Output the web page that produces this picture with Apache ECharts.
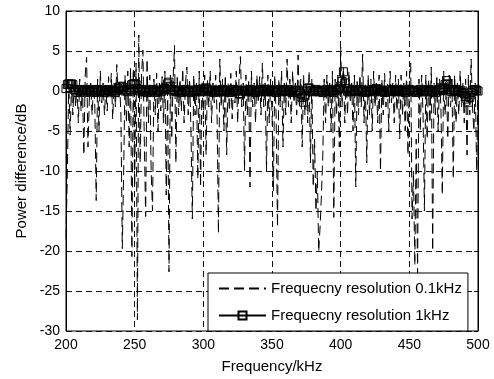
<!DOCTYPE html>
<html>
<head>
<meta charset="utf-8">
<script src="https://cdn.jsdelivr.net/npm/echarts@6/dist/echarts.min.js"></script>
<style>
  html, body { margin: 0; padding: 0; background: #fff; }
  #chart { width: 494px; height: 379px; }
</style>
</head>
<body>
<div id="chart"></div>
<script>
// frequency axis: one value per kHz, starting at 200 kHz
const freqStart = 200
const freqStep = 1

// power difference (dB), 0.1 kHz resolution (one sample per kHz)
const fineRes = [
  -18.5, -10, 1.2, -5.5, 0.8, -3, 1.5, -2, 0.6, -4,
  1.5, -2.5, 0.5, -8, 2, 4.2, -7, -1, 1, -3,
  0.8, -2, -13.7, 1.5, -5, 2.5, -1.5, 1, -3, 0.5,
  -2.5, 1.8, -1, 2.2, -3.5, 1, -2, 3.3, -1, 1.2,
  -3, -19.7, -10, 2, -4, 2.5, -7, 3, -20.7, 2.8,
  -12, 3.5, -28.6, 7, -9, 2, 5.1, -6, -15.7, 4,
  -4, 2, -10, -15, 1.5, -3, 2.2, -5, 1, -2.5,
  1.8, -4, 2.5, -13, 1, -22.6, 2, -6, 1.5, 5.7,
  -9, 2, -3, 1.5, -2.5, 2.8, -4, 1, 3, -3,
  1.5, -5, -16, 2, -3, 1, -11, 2.5, -12, 1.2,
  -3.5, 2, -8, 1.5, -2, 2.5, -4, 1, -1.5, 2,
  -3, -17.8, 4, -2, 1.5, -5, 2, -8, 1, -2.5,
  2.2, -3.5, 1, -1.5, 2.5, -4, 1.5, 4.3, -2, 1,
  -10, 2, -3, 1.2, -12, 2.5, -2, 1, -4, 2,
  -1.5, 1.8, -3, 3.5, -2, 1, -10, 2, -4, 1.5,
  -2.5, -12.5, 2, -3, -17, 1.5, -2, 2.5, -7, 1,
  -3, 4, -2, 1.5, -4, 2.5, -1.5, 1, -3, 4.5,
  -2, 1.5, -7, 2, -3, 1, -4, 2.5, -9, 1.5,
  -12, -6, -15, -10, -20.1, -17, -13, -8, 1.5, -4,
  2, -2, 1, -5, 2.5, -15.8, 1.5, -3, 2, -7,
  5.5, -2, 3, -4, 1.5, -3, 2.5, -1.5, 1, -5,
  2, -12, 1.5, -3, 2, -2, 4.6, -4, 1, -9,
  2, -3, 1.5, -5, 2.5, -2, 1, -4, 2, -10,
  1.5, -3, 2.2, -2, 1, -5, 2.5, -1.5, 1, -4,
  2, -2.5, 1.5, -6, 2, -3, 1, -5, 2.5, -8,
  1.5, 3.5, -16, -10, -21.8, -6, -22.8, 1.5, -5, 2,
  -3, -15, 2, -6, 1.5, -4, 3, -20, 1, -3,
  2, -5, 1.5, -2, -13, 2.5, -3, 1, -6, 2,
  -2, 1.5, -11, 2, -4, 1, -3, 2.5, -2, 1,
  -4, 1.5, -8, 2, -3, 4, -2, -5, 1, -10,
  0.5
]

// power difference (dB), 1 kHz resolution
const coarseRes = [
  0.3, 0.8, 0.9, 0.8, 0.9, 0.8, 0.2, 0.0, -0.2, 0.1,
  0.1, -0.1, 0.2, 0.0, -0.2, 0.1, 0.0, 0.2, -0.1, 0.0,
  0.1, -0.2, 0.0, 0.2, 0.1, -0.1, 0.0, 0.1, -0.2, 0.0,
  0.1, 0.2, 0.0, -0.1, 0.1, 0.0, -0.2, 0.1, 0.3, 0.5,
  0.6, 0.5, 0.2, 0.0, 0.1, -0.1, 0.2, 0.0, 0.8, 0.9,
  0.9, 0.8, 0.3, 0.1, 0.0, 0.2, -0.1, 0.0, 0.1, -0.2,
  0.0, 0.1, -0.1, 0.2, 0.0, -0.2, 0.1, 0.0, 0.1, -0.1,
  0.0, 0.2, 0.3, 0.5, 0.9, 1.1, 0.6, 0.2, 0.0, 0.1,
  -0.1, 0.0, 0.1, 0.0, -0.2, 0.1, 0.0, 0.2, -0.1, 0.0,
  0.1, -0.2, 0.0, 0.1, 0.0, -0.1, 0.2, 0.0, 0.1, -0.1,
  0.0, 0.3, 0.4, 0.2, 0.0, -0.1, 0.1, 0.0, -0.2, 0.1,
  0.0, 0.1, -0.1, 0.0, 0.2, 0.0, -0.1, 0.1, 0.0, -0.2,
  0.1, 0.0, 0.2, -0.1, 0.0, 0.1, -0.3, -0.4, 0.0, 0.1,
  0.0, -0.1, 0.1, 0.0, 0.2, -0.1, 0.0, 0.1, -0.2, 0.0,
  0.1, 0.0, -0.1, 0.2, 0.0, 0.1, -0.1, 0.0, 0.2, 0.0,
  -0.1, 0.1, 0.0, -0.2, 0.1, 0.0, 0.2, -0.1, 0.0, 0.1,
  0.0, -0.1, 0.2, 0.0, 0.1, -0.2, 0.0, 0.1, -0.1, 0.0,
  0.1, -0.3, -0.8, -1.4, -0.6, 0.0, 0.3, 0.4, 0.1, 0.0,
  -0.1, 0.0, 0.2, 0.0, -0.1, 0.1, 0.0, -0.2, 0.1, 0.0,
  0.2, 0.0, -0.1, 0.1, 0.0, -0.2, 0.1, 0.0, 0.2, 0.3,
  0.6, 1.2, 2.4, 1.0, 0.3, 0.0, 0.1, -0.1, 0.0, 0.2,
  0.0, -0.1, 0.1, 0.0, 0.2, -0.1, 0.0, 0.1, -0.2, 0.0,
  0.1, 0.0, -0.1, 0.2, 0.0, 0.1, 0.3, 0.2, 0.0, -0.1,
  0.0, 0.1, -0.2, 0.0, 0.1, 0.0, -0.1, 0.2, 0.0, 0.1,
  -0.1, 0.0, 0.2, 0.0, -0.1, 0.1, 0.0, -0.2, 0.1, 0.0,
  0.2, 0.0, -0.1, 0.1, 0.0, -0.2, 0.1, 0.0, 0.2, -0.1,
  0.0, 0.1, -0.1, 0.0, 0.2, 0.0, -0.1, 0.1, 0.0, -0.2,
  0.1, 0.0, 0.2, 0.4, 0.3, 0.1, 0.8, 1.3, 0.9, 0.2,
  0.0, -0.1, 0.1, 0.0, 0.2, -0.1, 0.0, 0.1, -0.2, 0.0,
  -0.3, -0.7, -1.0, -1.4, -0.8, -0.2, 0.1, 0.0, 0.2, 0.1,
  0.0
]

const seriesNames = ['Frequecny resolution 0.1kHz', 'Frequecny resolution 1kHz']

const font = 'Liberation Sans, Arial, sans-serif'
const toPairs = arr => arr.map((v, i) => [freqStart + i * freqStep, v])

const tickText = { color: '#000', fontSize: 14, fontFamily: font }
const titleText = { color: '#000', fontSize: 15, fontFamily: font }
const gridLine = { show: true, lineStyle: { color: '#111', width: 1, type: [6, 4] } }
const tick = { show: true, inside: true, length: 4, lineStyle: { color: '#000' } }

const chart = echarts.init(document.getElementById('chart'))
chart.setOption({
  animation: false,
  backgroundColor: '#fff',
  grid: { left: 66, right: 16, top: 11, bottom: 46, show: true, borderColor: '#000', borderWidth: 1 },
  legend: {
    data: [
      { name: seriesNames[0], itemStyle: { opacity: 0 } },
      { name: seriesNames[1] }
    ],
    orient: 'vertical',
    left: 208,
    top: 273,
    padding: [8, 6, 8, 10],
    itemGap: 12,
    itemWidth: 47,
    itemHeight: 10,
    backgroundColor: '#fff',
    borderColor: '#000',
    borderWidth: 1,
    textStyle: titleText
  },
  xAxis: [
    {
      type: 'value', min: 200, max: 500, interval: 50,
      name: 'Frequency/kHz', nameLocation: 'middle', nameGap: 28, nameTextStyle: titleText,
      axisLine: { lineStyle: { color: '#000' } },
      axisTick: tick,
      axisLabel: Object.assign({ margin: 7 }, tickText),
      splitLine: gridLine
    },
    {
      type: 'value', position: 'top', min: 200, max: 500, interval: 50,
      axisLine: { lineStyle: { color: '#000' } },
      axisTick: tick, axisLabel: { show: false }, splitLine: { show: false }
    }
  ],
  yAxis: [
    {
      type: 'value', min: -30, max: 10, interval: 5,
      name: 'Power difference/dB', nameLocation: 'middle', nameGap: 34, nameTextStyle: titleText,
      axisLine: { show: true, lineStyle: { color: '#000' } },
      axisTick: tick,
      axisLabel: Object.assign({ margin: 6 }, tickText),
      splitLine: gridLine
    },
    {
      type: 'value', position: 'right', min: -30, max: 10, interval: 5,
      axisLine: { show: true, lineStyle: { color: '#000' } },
      axisTick: tick, axisLabel: { show: false }, splitLine: { show: false }
    }
  ],
  series: [
    {
      name: seriesNames[0],
      type: 'line',
      data: toPairs(fineRes),
      symbol: 'none',
      lineStyle: { color: '#000', width: 1, type: [10, 5] },
      itemStyle: { color: '#000' }
    },
    {
      name: seriesNames[1],
      type: 'line',
      data: toPairs(coarseRes),
      symbol: 'rect',
      symbolSize: 8,
      showAllSymbol: true,
      lineStyle: { color: '#000', width: 1 },
      itemStyle: { color: 'rgba(0,0,0,0)', borderColor: '#000', borderWidth: 1 }
    }
  ]
})
</script>
</body>
</html>
